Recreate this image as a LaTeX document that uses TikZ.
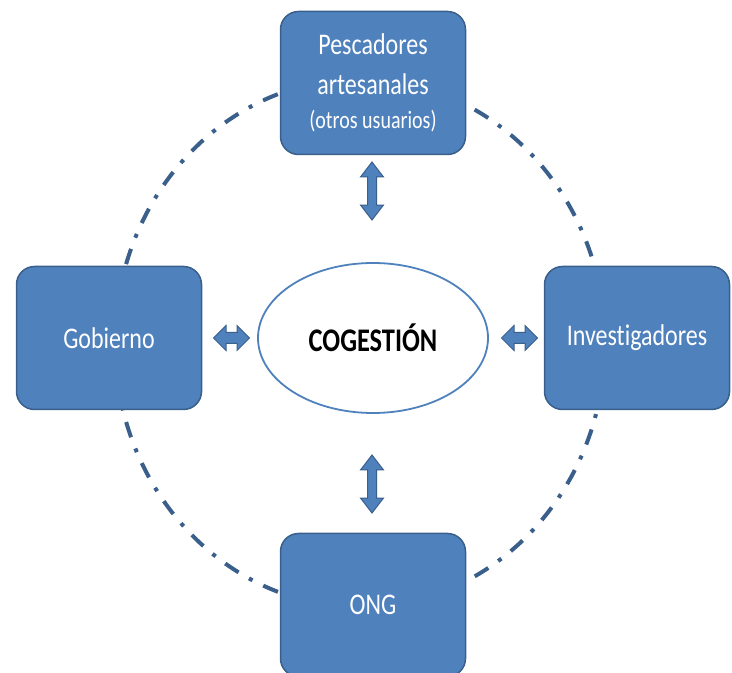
\documentclass[tikz,border=0pt]{standalone}
\usepackage{fontspec}
\setmainfont{Carlito}[FakeStretch=0.8, Ligatures=NoCommon]
\usepackage{tikz}
\usetikzlibrary{positioning}
\usetikzlibrary{shapes.geometric}
\usetikzlibrary{shapes.arrows}
\usepackage{xcolor}
\definecolor{boxblue}{HTML}{4F81BD}
\definecolor{edgeblue}{HTML}{3A5F8B}

\begin{document}
\begin{tikzpicture}[x=1pt, y=1pt, node distance=264pt,
    actor/.style={draw=edgeblue, line width=1.5pt, fill=boxblue, rounded corners=18pt,
        minimum width=185pt, minimum height=143pt, text=white, align=center,
        font=\fontsize{30}{40}\selectfont},
    hbothway/.style={double arrow, draw=edgeblue, line width=1pt, fill=boxblue,
        inner xsep=0pt, inner ysep=5pt, minimum height=36pt, minimum width=25pt,
        double arrow head extend=7pt},
    vbothway/.style={hbothway, shape border rotate=90, inner xsep=4pt, inner ysep=4pt,
        minimum height=58pt, minimum width=22pt, double arrow head extend=7pt,
        double arrow tip angle=75}]
    \useasboundingbox (0,0) rectangle (732,673);
    \draw[edgeblue, line width=4pt, dash pattern=on 16pt off 12pt on 4pt off 12pt]
        (360,330) ellipse [x radius=245, y radius=264];
    \node[draw=boxblue, line width=1.8pt, fill=white, ellipse, inner sep=0pt,
        minimum width=230pt, minimum height=150pt, font=\fontsize{33}{40}\selectfont\bfseries]
        (cog) at (373,335) {COGESTIÓN};
    \node[actor, above of=cog, yshift=-9pt] (pesc)
        {Pescadores\\artesanales\\[-6pt]{\fontsize{25}{31}\selectfont (otros usuarios)}};
    \node[actor, left of=cog] (gob) {Gobierno};
    \node[actor, right of=cog] (inv) {Investigadores};
    \node[actor, below of=cog, yshift=-3pt] (ong) {ONG};
    \node[vbothway] (up) at (372,482) {};
    \node[vbothway] (down) at (372,189) {};
    \node[hbothway] (west) at (231.5,335) {};
    \node[hbothway] (east) at (519.5,335) {};
\end{tikzpicture}
\end{document}
